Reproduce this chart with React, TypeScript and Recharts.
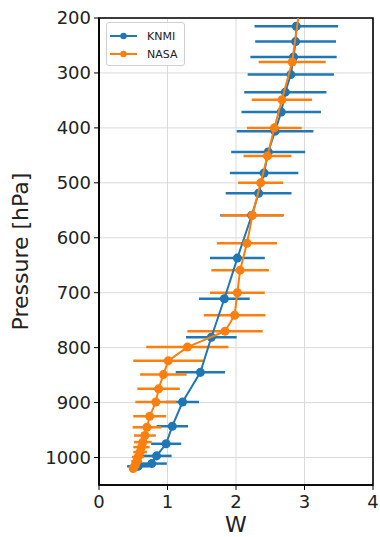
import * as React from 'react';
import {
  ScatterChart,
  Scatter,
  XAxis,
  YAxis,
  ZAxis,
  CartesianGrid,
  ErrorBar,
  Legend,
  ReferenceArea
} from 'recharts';

// KNMI profile (pressure in hPa, W, half width of the error bar)
const knmiPressure = [215, 243, 271, 303, 335, 371, 406, 444, 482, 519, 559, 637, 711, 781, 845, 899, 943, 975, 997, 1011, 1016];
const knmiW = [2.88, 2.87, 2.84, 2.80, 2.72, 2.66, 2.57, 2.47, 2.41, 2.33, 2.23, 2.02, 1.83, 1.64, 1.48, 1.22, 1.07, 0.98, 0.84, 0.77, 0.57];
const knmiErr = [0.61, 0.59, 0.63, 0.63, 0.60, 0.58, 0.56, 0.54, 0.50, 0.48, 0.46, 0.40, 0.37, 0.37, 0.36, 0.24, 0.23, 0.22, 0.22, 0.22, 0.16];

// NASA profile (first level sits above the top of the axis)
const nasaPressure = [190, 280, 349, 400, 451, 500, 559, 610, 659, 700, 741, 770, 799, 824, 849, 875, 899, 925, 945, 960, 972, 981, 990, 999, 1007, 1014, 1020];
const nasaW = [2.92, 2.82, 2.67, 2.56, 2.46, 2.36, 2.24, 2.16, 2.06, 2.02, 1.98, 1.84, 1.29, 1.01, 0.94, 0.87, 0.83, 0.74, 0.70, 0.67, 0.64, 0.62, 0.60, 0.57, 0.55, 0.53, 0.50];
const nasaErr = [0, 0.49, 0.44, 0.40, 0.35, 0.33, 0.46, 0.44, 0.42, 0.40, 0.45, 0.55, 0.60, 0.51, 0.34, 0.31, 0.30, 0.24, 0.21, 0.16, 0.13, 0.12, 0.10, 0.09, 0.08, 0.07, 0.06];

const xTicks = [0, 1, 2, 3, 4];
const yTicks = [200, 300, 400, 500, 600, 700, 800, 900, 1000];

const BLUE = '#1f77b4';
const ORANGE = '#ff7f0e';
const FONT = '"DejaVu Sans", sans-serif';

const knmiData = knmiPressure.map((p, i) => ({ p, w: knmiW[i], err: knmiErr[i] }));
const nasaData = nasaPressure.map((p, i) => ({ p, w: nasaW[i], err: nasaErr[i] }));

function LegendBox() {
  const rows = [
    { name: 'KNMI', color: BLUE },
    { name: 'NASA', color: ORANGE }
  ];
  return (
    <div
      style={{
        border: '1px solid #d0d0d0',
        borderRadius: 3,
        background: 'rgba(255,255,255,0.85)',
        width: 79,
        height: 44,
        boxSizing: 'border-box',
        padding: '4px 0 0 2px',
        fontFamily: FONT,
        fontSize: 11,
        color: '#222'
      }}
    >
      {rows.map((r) => (
        <div key={r.name} style={{ display: 'flex', alignItems: 'center', height: 18 }}>
          <svg width={36} height={10} style={{ marginRight: 2 }}>
            <line x1={1} y1={5} x2={28} y2={5} stroke={r.color} strokeWidth={2} />
            <circle cx={14.5} cy={5} r={3.2} fill={r.color} />
          </svg>
          <span>{r.name}</span>
        </div>
      ))}
    </div>
  );
}

export default function App() {
  return (
    <div style={{ position: 'absolute', left: 0, top: 0, width: 380, height: 537, background: '#fff' }}>
      <ScatterChart width={380} height={537} margin={{ top: 18, right: 7, bottom: 0, left: 0 }}>
        <CartesianGrid stroke="#dadada" strokeWidth={1} />
        <XAxis
          type="number"
          dataKey="w"
          domain={[0, 4]}
          ticks={xTicks}
          allowDataOverflow
          height={52}
          tickSize={5}
          tickMargin={5}
          axisLine={{ stroke: '#000', strokeWidth: 1.6 }}
          tickLine={{ stroke: '#000' }}
          tick={{ fill: '#222', fontSize: 18, fontFamily: FONT }}
          label={{ value: 'W', position: 'insideBottom', offset: 5, style: { fill: '#222', fontSize: 22, fontFamily: FONT } }}
        />
        <YAxis
          type="number"
          dataKey="p"
          domain={[200, 1050]}
          ticks={yTicks}
          reversed
          allowDataOverflow
          width={99}
          tickSize={5}
          tickMargin={3}
          axisLine={{ stroke: '#000', strokeWidth: 1.6 }}
          tickLine={{ stroke: '#000' }}
          tick={{ fill: '#222', fontSize: 18, fontFamily: FONT }}
          label={{
            value: 'Pressure [hPa]',
            angle: -90,
            position: 'insideLeft',
            offset: 20,
            style: { fill: '#222', fontSize: 22, fontFamily: FONT, textAnchor: 'middle' }
          }}
        />
        <ZAxis range={[40, 40]} />
        <Legend
          layout="horizontal"
          align="center"
          verticalAlign="middle"
          content={() => <LegendBox />}
          wrapperStyle={{ position: 'absolute', left: 106, top: 22, width: 79 }}
        />
        <Scatter
          name="KNMI"
          data={knmiData}
          fill={BLUE}
          line={{ stroke: BLUE, strokeWidth: 2 }}
          lineType="joint"
          isAnimationActive={false}
        >
          <ErrorBar dataKey="err" direction="x" width={0} stroke={BLUE} strokeWidth={2.5} />
        </Scatter>
        <Scatter
          name="NASA"
          data={nasaData}
          fill={ORANGE}
          line={{ stroke: ORANGE, strokeWidth: 2 }}
          lineType="joint"
          isAnimationActive={false}
        >
          <ErrorBar dataKey="err" direction="x" width={0} stroke={ORANGE} strokeWidth={2.5} />
        </Scatter>
        <ReferenceArea x1={0} x2={4} y1={200} y2={1050} fill="none" stroke="#000" strokeWidth={1.6} ifOverflow="visible" />
      </ScatterChart>
    </div>
  );
}
